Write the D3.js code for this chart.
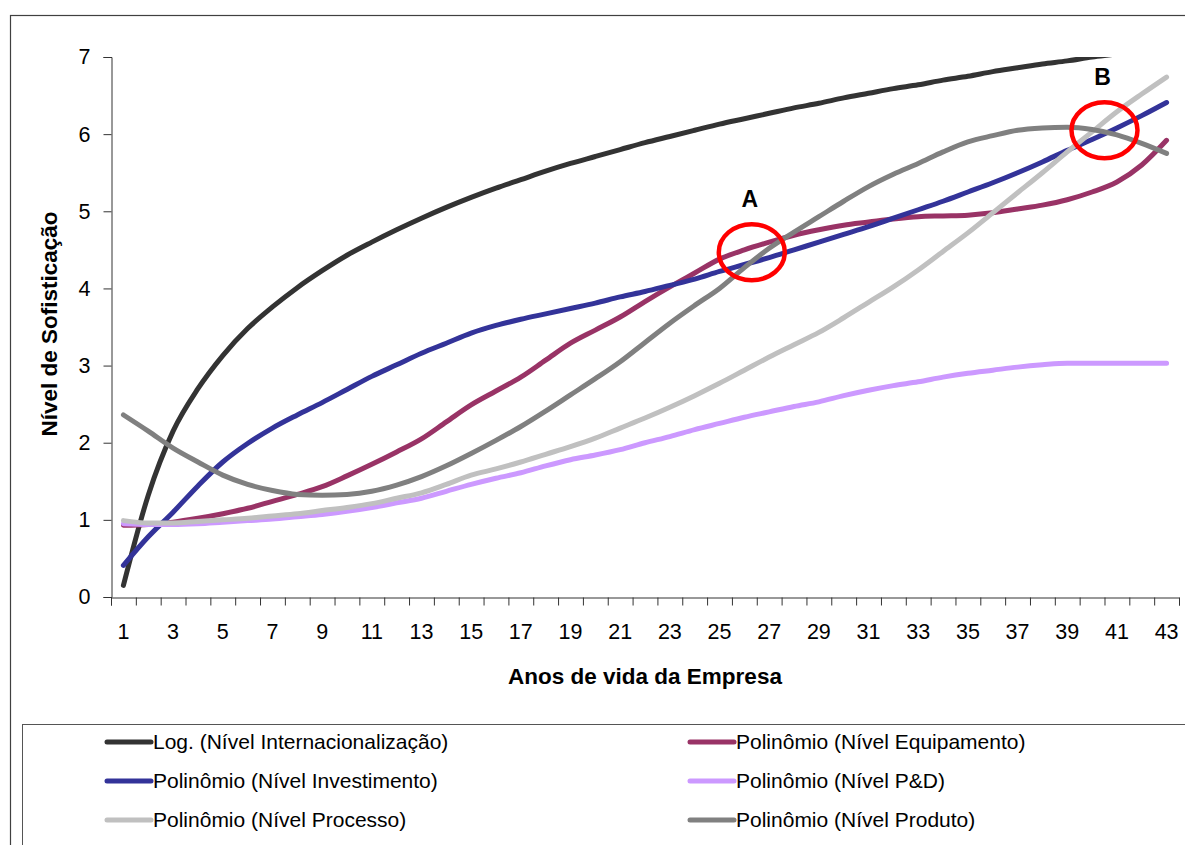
<!DOCTYPE html>
<html>
<head>
<meta charset="utf-8">
<script src="https://cdn.jsdelivr.net/npm/d3@7"></script>
<style>
  html, body { margin: 0; padding: 0; background: #ffffff; }
  svg { display: block; font-family: "Liberation Sans", Arial, sans-serif; }
</style>
</head>
<body>
<svg id="chart" width="1185" height="845"></svg>
<script>
// Company age (years) along the x axis
const years = d3.range(1, 44);

// Trend lines of the sophistication level per dimension
const internacionalizacao = [0.15, 1.32, 2.15, 2.70, 3.13, 3.48, 3.76, 4.01, 4.23, 4.43, 4.60, 4.76, 4.91, 5.05, 5.18, 5.30, 5.41, 5.52, 5.62, 5.71, 5.80, 5.89, 5.97, 6.05, 6.13, 6.20, 6.27, 6.34, 6.40, 6.47, 6.53, 6.59, 6.64, 6.70, 6.75, 6.81, 6.86, 6.91, 6.95, 7.00, 7.04, 7.09, 7.13];
const equipamento = [0.93, 0.94, 0.97, 1.02, 1.08, 1.15, 1.24, 1.33, 1.43, 1.57, 1.72, 1.88, 2.05, 2.27, 2.49, 2.67, 2.85, 3.07, 3.29, 3.46, 3.63, 3.83, 4.02, 4.20, 4.38, 4.50, 4.60, 4.69, 4.76, 4.82, 4.86, 4.90, 4.93, 4.94, 4.95, 4.98, 5.03, 5.08, 5.15, 5.25, 5.38, 5.60, 5.92];
const investimento = [0.41, 0.78, 1.10, 1.44, 1.75, 1.99, 2.19, 2.36, 2.52, 2.69, 2.86, 3.01, 3.16, 3.29, 3.42, 3.52, 3.60, 3.67, 3.74, 3.81, 3.89, 3.96, 4.04, 4.12, 4.22, 4.31, 4.40, 4.50, 4.60, 4.70, 4.80, 4.91, 5.02, 5.13, 5.25, 5.37, 5.50, 5.64, 5.79, 5.93, 6.08, 6.24, 6.41];
const pd = [0.95, 0.94, 0.94, 0.95, 0.97, 0.99, 1.01, 1.04, 1.07, 1.11, 1.16, 1.22, 1.28, 1.37, 1.46, 1.54, 1.61, 1.70, 1.78, 1.84, 1.91, 2.00, 2.08, 2.17, 2.25, 2.33, 2.40, 2.47, 2.53, 2.61, 2.68, 2.74, 2.79, 2.85, 2.90, 2.94, 2.98, 3.01, 3.03, 3.03, 3.03, 3.03, 3.03];
const processo = [0.99, 0.96, 0.96, 0.98, 1.00, 1.02, 1.05, 1.08, 1.12, 1.16, 1.21, 1.28, 1.35, 1.46, 1.58, 1.66, 1.75, 1.85, 1.95, 2.06, 2.19, 2.32, 2.46, 2.61, 2.77, 2.94, 3.11, 3.27, 3.43, 3.62, 3.82, 4.02, 4.24, 4.48, 4.72, 4.98, 5.24, 5.50, 5.77, 6.03, 6.29, 6.52, 6.74];
const produto = [2.36, 2.15, 1.93, 1.75, 1.58, 1.46, 1.38, 1.33, 1.32, 1.33, 1.37, 1.45, 1.56, 1.70, 1.86, 2.03, 2.21, 2.41, 2.62, 2.83, 3.05, 3.30, 3.55, 3.78, 4.00, 4.27, 4.52, 4.73, 4.93, 5.13, 5.32, 5.48, 5.62, 5.77, 5.90, 5.98, 6.05, 6.08, 6.09, 6.06, 5.99, 5.88, 5.75];

const seriesNames = [
  "Log. (Nível Internacionalização)",
  "Polinômio (Nível Equipamento)",
  "Polinômio (Nível Investimento)",
  "Polinômio (Nível P&D)",
  "Polinômio (Nível Processo)",
  "Polinômio (Nível Produto)"
];
const seriesValues = [internacionalizacao, equipamento, investimento, pd, processo, produto];
const seriesColors = ["#333333", "#993366", "#333399", "#CC99FF", "#C0C0C0", "#808080"];

const yTicks = [0, 1, 2, 3, 4, 5, 6, 7];
const xLabelYears = years.filter(d => d % 2 === 1);

// Highlighted crossing points
const marks = [
  { label: "A", year: 26.3, value: 4.47 },
  { label: "B", year: 40.5, value: 6.05 }
];

const svg = d3.select("#chart");
const plot = { left: 111, right: 1179, top: 57, bottom: 597 };

const x = d3.scaleBand().domain(years).range([plot.left, plot.right]).padding(0);
const xEdge = d3.scaleLinear().domain([0, years.length]).range([plot.left, plot.right]);
const xPos = d => plot.left + (d - 0.5) * x.bandwidth();
const y = d3.scaleLinear().domain([0, 7]).range([plot.bottom, plot.top]);

// Outer chart frame
svg.append("rect")
  .attr("x", 10.5).attr("y", 15.5)
  .attr("width", 1200).attr("height", 900)
  .attr("fill", "#ffffff").attr("stroke", "#404040").attr("stroke-width", 1.2);

// Plot clipping
svg.append("defs").append("clipPath").attr("id", "plotClip")
  .append("rect")
  .attr("x", plot.left).attr("y", plot.top)
  .attr("width", plot.right - plot.left).attr("height", plot.bottom - plot.top);

// Y axis
const yAxis = svg.append("g")
  .attr("transform", `translate(${plot.left + 0.5},0)`)
  .call(d3.axisLeft(y).tickValues(yTicks).tickSize(8).tickPadding(13).tickFormat(d3.format("d")));
yAxis.select(".domain").attr("stroke", "#333333");
yAxis.selectAll(".tick line").attr("stroke", "#333333");
yAxis.selectAll("text")
  .attr("font-family", "Liberation Sans, Arial, sans-serif")
  .attr("font-size", 21.5).attr("fill", "#000000");

// X axis: tick marks at category edges
const xTicksG = svg.append("g")
  .attr("transform", `translate(0,${plot.bottom + 0.5})`)
  .call(d3.axisBottom(xEdge).tickValues(d3.range(0, years.length + 1)).tickSize(8).tickFormat(""));
xTicksG.select(".domain").attr("stroke", "#333333");
xTicksG.selectAll(".tick line").attr("stroke", "#333333");

// X axis: category labels
const xLabels = svg.append("g")
  .attr("transform", `translate(0,${plot.bottom})`)
  .call(d3.axisBottom(x).tickValues(xLabelYears).tickSize(0).tickPadding(27));
xLabels.select(".domain").remove();
xLabels.selectAll("text")
  .attr("font-family", "Liberation Sans, Arial, sans-serif")
  .attr("font-size", 21.5).attr("fill", "#000000");

// Axis titles
svg.append("text")
  .attr("x", 645).attr("y", 684)
  .attr("text-anchor", "middle")
  .attr("font-size", 22.5).attr("font-weight", "bold")
  .text("Anos de vida da Empresa");

svg.append("text")
  .attr("transform", "translate(57,324) rotate(-90)")
  .attr("text-anchor", "middle")
  .attr("font-size", 22.5).attr("font-weight", "bold")
  .text("Nível de Sofisticação");

// Trend lines
const line = d3.line()
  .x((d, i) => x(years[i]) + x.bandwidth() / 2)
  .y(d => y(d))
  .curve(d3.curveMonotoneX);

const linesG = svg.append("g").attr("clip-path", "url(#plotClip)");
seriesValues.forEach((vals, i) => {
  linesG.append("path")
    .datum(vals)
    .attr("d", line)
    .attr("fill", "none")
    .attr("stroke", seriesColors[i])
    .attr("stroke-width", 5)
    .attr("stroke-linejoin", "round")
    .attr("stroke-linecap", "round");
});

// Highlight ellipses and their letters
marks.forEach(m => {
  const cx = xPos(m.year), cy = y(m.value);
  svg.append("ellipse")
    .attr("cx", cx).attr("cy", cy)
    .attr("rx", 33).attr("ry", 28)
    .attr("fill", "none").attr("stroke", "#FF0000").attr("stroke-width", 4.5);
  svg.append("text")
    .attr("x", cx - 2).attr("y", cy - 45)
    .attr("text-anchor", "middle")
    .attr("font-size", 23).attr("font-weight", "bold")
    .text(m.label);
});

// Legend
svg.append("rect")
  .attr("x", 22.5).attr("y", 724.5)
  .attr("width", 1200).attr("height", 200)
  .attr("fill", "#ffffff").attr("stroke", "#555555").attr("stroke-width", 1);

const legendCols = [105, 688];
const legendRows = [742, 781, 820];
seriesNames.forEach((name, i) => {
  const col = i % 2, row = Math.floor(i / 2);
  const lx = legendCols[col], ly = legendRows[row];
  svg.append("line")
    .attr("x1", lx + 2).attr("x2", lx + 46)
    .attr("y1", ly).attr("y2", ly)
    .attr("stroke", seriesColors[i]).attr("stroke-width", 5)
    .attr("stroke-linecap", "round");
  svg.append("text")
    .attr("x", lx + 48).attr("y", ly)
    .attr("dy", "0.35em")
    .attr("font-size", 21)
    .attr("fill", "#000000")
    .text(name);
});
</script>
</body>
</html>
